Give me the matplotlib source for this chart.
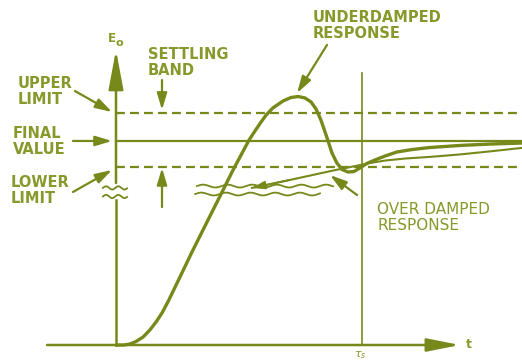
import numpy as np
import matplotlib.pyplot as plt

# time in units of the settling time, output in units of the final value
t_under = [0.000, 0.033, 0.057, 0.081, 0.110, 0.138, 0.163, 0.187, 0.211, 0.260,
           0.313, 0.370, 0.423, 0.476, 0.541, 0.565, 0.585, 0.610, 0.638, 0.679,
           0.711, 0.740, 0.768, 0.793, 0.813, 0.833, 0.858, 0.878, 0.898, 0.919,
           0.943, 0.967, 0.992, 1.020, 1.053, 1.093, 1.142, 1.203, 1.276, 1.398,
           1.520, 1.650]
e_under = [0.000, 0.000, 0.005, 0.017, 0.039, 0.074, 0.113, 0.157, 0.211, 0.333,
           0.466, 0.603, 0.730, 0.858, 1.005, 1.049, 1.085, 1.127, 1.162, 1.196,
           1.213, 1.218, 1.211, 1.191, 1.157, 1.103, 1.015, 0.941, 0.892, 0.860,
           0.848, 0.850, 0.868, 0.890, 0.907, 0.926, 0.946, 0.958, 0.968, 0.978,
           0.985, 0.990]

t_over = [0.553, 0.707, 0.882, 0.972, 1.033, 1.093, 1.175, 1.276, 1.398, 1.520, 1.650]
e_over = [0.770, 0.809, 0.855, 0.877, 0.892, 0.904, 0.914, 0.922, 0.934, 0.949, 0.966]

E_FINAL = 1.0
E_UPPER = 1.137
E_LOWER = 0.873
T_SETTLE = 1.0

LINE = '#76891a'
TEXT = '#86992a'

fig = plt.figure(figsize=(5.22, 3.61), dpi=100)
ax = fig.add_axes([0, 0, 1, 1])
ax.set_xlim(-0.4715, 1.6504)
ax.set_ylim(-0.0784, 1.691)
ax.axis('off')


def arrow(x0, y0, x1, y1, hl=1.0, hw=0.3, lw=1.6):
    ax.annotate('', xy=(x1, y1), xytext=(x0, y0),
                arrowprops=dict(arrowstyle=f'-|>,head_length={hl},head_width={hw}',
                                color=LINE, lw=lw, shrinkA=0, shrinkB=0,
                                mutation_scale=10))


def wavy(t0, t1, e, amp=0.007, wl=0.1, lw=1.3):
    tt = np.linspace(t0, t1, 200)
    ax.plot(tt, e + amp * np.sin(2 * np.pi * (tt - t0) / wl), color=LINE, lw=lw)


# axes
ax.plot([0, 0], [0, 0.711], color=LINE, lw=1.8)
arrow(0, 0.794, 0, 1.446, hl=2.4, hw=0.45, lw=1.8)
arrow(-0.280, 0, 1.398, 0, hl=2.0, hw=0.4, lw=1.8)
wavy(-0.053, 0.045, 0.770, amp=0.008, wl=0.05)
wavy(-0.053, 0.045, 0.728, amp=0.008, wl=0.05)

# settling band and final value
ax.plot([0, 1.65], [E_FINAL, E_FINAL], color=LINE, lw=1.6)
ax.plot([0, 1.65], [E_UPPER, E_UPPER], color=LINE, lw=1.6, dashes=(4.0, 2.3))
ax.plot([0, 1.65], [E_LOWER, E_LOWER], color=LINE, lw=1.6, dashes=(4.0, 2.3))
ax.plot([T_SETTLE, T_SETTLE], [0, 1.333], color=LINE, lw=1.2)

# broken scale across the curves
wavy(0.329, 0.882, 0.779)
wavy(0.322, 0.829, 0.740)

# responses
ax.plot(t_under, e_under, color=LINE, lw=2.4, solid_capstyle='round',
        solid_joinstyle='round')
ax.plot(t_over, e_over, color=LINE, lw=1.5)
arrow(t_over[1], e_over[1], t_over[0], e_over[0], hl=0.8, hw=0.25, lw=1.2)

# callouts
arrow(-0.167, 1.245, -0.016, 1.142)
arrow(-0.175, 1.0, -0.016, 1.0)
arrow(-0.175, 0.750, -0.016, 0.858)
arrow(0.187, 1.299, 0.187, 1.152)
arrow(0.187, 0.676, 0.187, 0.868)
arrow(0.858, 1.471, 0.736, 1.235)
arrow(0.980, 0.735, 0.870, 0.833)

# multi-line labels are placed by the baseline of their last line
lab = dict(color=TEXT, fontsize=10.5, fontweight='bold', va='baseline',
           linespacing=1.1)
ax.text(-0.398, 1.181, 'UPPER\nLIMIT', **lab)
ax.text(-0.420, 0.936, 'FINAL\nVALUE', **lab)
ax.text(-0.427, 0.696, 'LOWER\nLIMIT', **lab)
ax.text(0.130, 1.324, 'SETTLING\nBAND', **lab)
ax.text(0.801, 1.505, 'UNDERDAMPED\nRESPONSE', **lab)
ax.text(1.061, 0.564, 'OVER DAMPED\nRESPONSE', color=TEXT, fontsize=11,
        va='baseline', linespacing=1.1)

ax.text(-0.033, 1.485, 'E', color=TEXT, fontsize=8.5, fontweight='bold')
ax.text(0.000, 1.465, 'o', color=TEXT, fontsize=8, fontweight='bold')
ax.text(1.423, -0.015, 't', color=TEXT, fontsize=9, fontweight='bold')
ax.text(0.992, -0.022, r'$\tau_s$', color=TEXT, fontsize=8, ha='center', va='top')

fig.savefig('out.png', dpi=100)
